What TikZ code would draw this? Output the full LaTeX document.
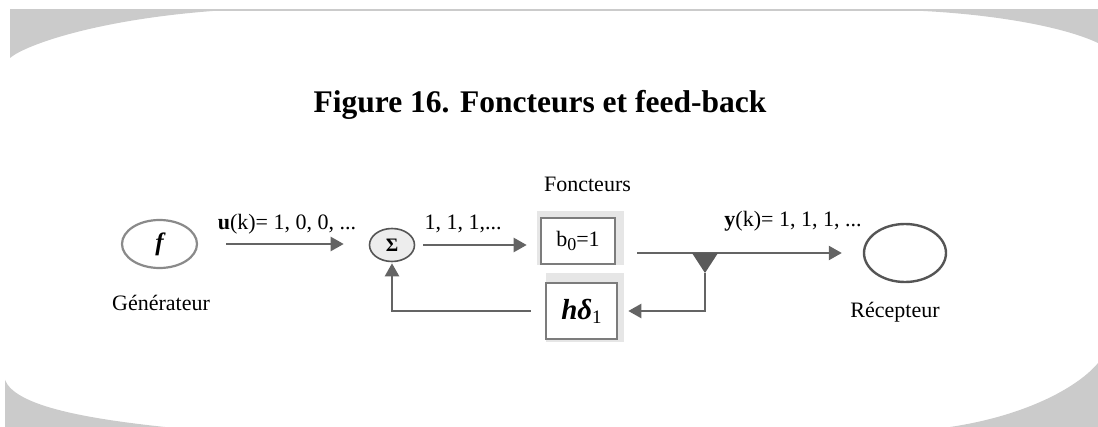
\documentclass[tikz,border=0pt]{standalone}
\usepackage{fontspec}
\setmainfont{Liberation Serif}
\usetikzlibrary{shapes.geometric,arrows.meta,calc,backgrounds}

\definecolor{cornergray}{HTML}{CBCBCB}
\definecolor{wire}{HTML}{646464}
\definecolor{shadowgray}{HTML}{E6E6E6}
\definecolor{boxedge}{HTML}{7C7C7C}
\definecolor{genedge}{HTML}{8A8A8A}
\definecolor{darkedge}{HTML}{555555}
\definecolor{sumfill}{HTML}{EDEDED}

\tikzset{
  lbl/.style={anchor=base, inner sep=0pt, font=\fontsize{22}{24}\selectfont},
  flowarrow/.style={draw=wire, line width=2.4pt,
    -{Triangle[length=13pt,width=14pt]}},
  blockbox/.style={draw=boxedge, fill=white, line width=2.6pt, inner sep=0pt},
}

\begin{document}
\begin{tikzpicture}[x=1pt, y=-1pt]
  \useasboundingbox (0,0) rectangle (1098,427);

  % frame: thin top rule and the four curved grey corners
  \draw[cornergray, line width=1.4pt] (10,10) -- (1098,10);
  \fill[cornergray] (10,10) -- (227,10) .. controls (100,18) and (25,45) .. (10,58) -- cycle;
  \fill[cornergray] (897,10) -- (1098,10) -- (1098,43) .. controls (1060,25) and (980,12) .. (897,10) -- cycle;
  \fill[cornergray] (5,380) .. controls (15,405) and (80,418) .. (165,427) -- (5,427) -- cycle;
  \fill[cornergray] (1098,363) .. controls (1080,385) and (1030,415) .. (950,427) -- (1098,427) -- cycle;

  % title
  \node[anchor=base, inner sep=0pt, font=\fontsize{31.5}{34}\selectfont\bfseries] (title) at (540,113)
    {Figure 16. Foncteurs et feed-back};

  % blocks
  \node[ellipse, draw=genedge, line width=2.2pt, minimum width=75pt, minimum height=48pt, inner sep=0pt]
    (gen) at (159.5,244) {\fontsize{25}{25}\selectfont\bfseries\itshape f};
  \node[ellipse, draw=darkedge, fill=sumfill, line width=1.6pt, minimum width=45pt, minimum height=33pt, inner sep=0pt]
    (sum) at (392,245) {\fontsize{19}{19}\selectfont\bfseries Σ};
  \node[blockbox, minimum width=74pt, minimum height=46pt] (b0) at (578,241)
    {\fontsize{22}{22}\selectfont b\raisebox{-0.35ex}{\fontsize{18}{18}\selectfont 0}=1};
  \node[blockbox, minimum width=71pt, minimum height=56pt] (hd) at (581.5,311)
    {\fontsize{29}{29}\selectfont\bfseries\itshape hδ\raisebox{-0.3ex}{\fontsize{19}{19}\selectfont\mdseries\upshape 1}};
  \node[ellipse, draw=darkedge, line width=2.4pt, minimum width=82pt, minimum height=58pt, inner sep=0pt]
    (rec) at (905,253) {};

  % box shadows
  \begin{scope}[on background layer]
    \fill[shadowgray] ($(b0.south west)+(-3,0)$) rectangle ($(b0.north east)+(8,-6)$);
    \fill[shadowgray] ($(hd.south west)+(1,2)$) rectangle ($(hd.north east)+(6,-9)$);
  \end{scope}

  % labels
  \node[lbl] (lgen) at (161,311) {Générateur};
  \node[lbl] (lrec) at (895,318) {Récepteur};
  \node[lbl] (lfon) at (587.5,192) {Foncteurs};
  \node[lbl] (lu) at (287,230) {\textbf{u}(k)= 1, 0, 0, ...};
  \node[lbl] (lmid) at (463,230) {1, 1, 1,...};
  \node[lbl] (ly) at (793,227) {\textbf{y}(k)= 1, 1, 1, ...};

  % forward path
  \draw[flowarrow, shorten <=28pt, shorten >=25pt] (gen.east) -- (gen.east -| sum.west);
  \draw[flowarrow, shorten <=8pt, shorten >=13pt] (sum.east) -- (sum.east -| b0.west);

  % output and take-off point
  \coordinate (tap) at (705,253);
  \coordinate (tapdown) at (705,273);
  \draw[flowarrow, shorten <=21pt, shorten >=21pt] (tap -| b0.east) -- (tap -| rec.west);
  \fill[wire!90!black] ($(tap)+(-13,0)$) -- ($(tap)+(13,0)$) -- (tapdown) -- cycle;

  % feedback path
  \draw[flowarrow, shorten >=10pt] (tapdown) |- (hd.east);
  \draw[flowarrow, shorten <=14pt, shorten >=1pt] (hd.west) -| (sum.south);
\end{tikzpicture}
\end{document}
